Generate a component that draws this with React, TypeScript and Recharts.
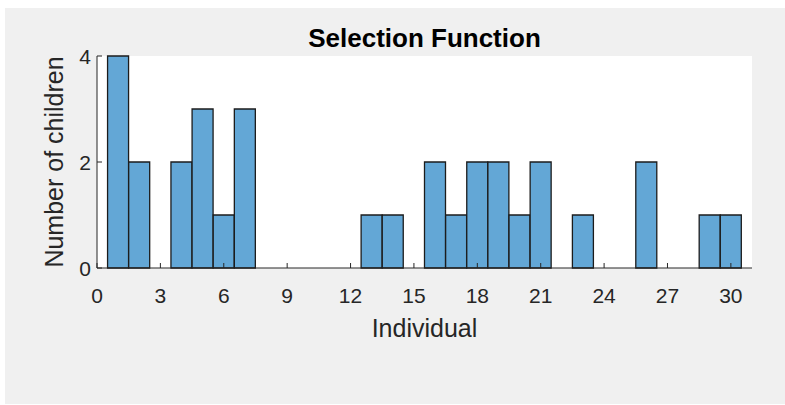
import React from 'react';
import { ComposedChart, Bar, XAxis, YAxis, CartesianGrid } from 'recharts';

const individuals = [1, 2, 3, 4, 5, 6, 7, 8, 9, 10, 11, 12, 13, 14, 15, 16, 17, 18, 19, 20, 21, 22, 23, 24, 25, 26, 27, 28, 29, 30];
const childrenCounts = [4, 2, 0, 2, 3, 1, 3, 0, 0, 0, 0, 0, 1, 1, 0, 2, 1, 2, 2, 1, 2, 0, 1, 0, 0, 2, 0, 0, 1, 1];
const xTicks = [0, 3, 6, 9, 12, 15, 18, 21, 24, 27, 30];
const yTicks = [0, 2, 4];
const xDomain = [0, 31];
const yDomain = [0, 4];
const titleText = 'Selection Function';
const xLabelText = 'Individual';
const yLabelText = 'Number of children';

const data = individuals.map((ind, i) => ({ individual: ind, count: childrenCounts[i] }));

const FONT = '"Liberation Sans", Arial, Helvetica, sans-serif';
const INK = '#262626';
const W = 785;
const H = 405;
const MARGIN = { top: 56, right: 33, bottom: 107, left: 37 };
const Y_AXIS_W = 60;
const X_AXIS_H = 30;

const XTick = (props: any) => {
  const { x, y, payload } = props;
  return (
    <g>
      <line x1={x} x2={x} y1={y} y2={y - 5} stroke={INK} strokeWidth={1} />
      <text x={x} y={y + 35} textAnchor="middle" fontSize={21} fill={INK} fontFamily={FONT}>
        {payload.value}
      </text>
    </g>
  );
};

const YTick = (props: any) => {
  const { x, y, payload } = props;
  return (
    <g>
      <line x1={x} x2={x + 5} y1={y} y2={y} stroke={INK} strokeWidth={1} />
      <text x={x - 6} y={y + 7.5} textAnchor="end" fontSize={21} fill={INK} fontFamily={FONT}>
        {payload.value}
      </text>
    </g>
  );
};

export default function App() {
  const plotLeft = MARGIN.left + Y_AXIS_W;
  const plotRight = W - MARGIN.right;
  const plotTop = MARGIN.top;
  const plotBottom = H - MARGIN.bottom - X_AXIS_H;
  const cx = (plotLeft + plotRight) / 2;
  const cy = (plotTop + plotBottom) / 2;
  return (
    <div style={{ position: 'absolute', left: 0, top: 0, width: W, height: H, background: '#ffffff', overflow: 'hidden' }}>
      <div style={{ position: 'absolute', left: 5, top: 8, width: W - 5, height: 396, background: '#f0f0f0' }} />
      <div style={{ position: 'absolute', left: 0, top: 0 }}>
        <ComposedChart width={W} height={H} data={data} margin={MARGIN} barCategoryGap={0} barGap={0}>
          <CartesianGrid horizontal={false} vertical={false} fill="#ffffff" fillOpacity={1} stroke="none" />
          <XAxis
            type="number"
            dataKey="individual"
            domain={xDomain}
            ticks={xTicks}
            interval={0}
            height={X_AXIS_H}
            tickSize={0}
            tickMargin={0}
            tickLine={false}
            axisLine={{ stroke: INK, strokeWidth: 1 }}
            tick={<XTick />}
          />
          <YAxis
            type="number"
            domain={yDomain}
            ticks={yTicks}
            interval={0}
            width={Y_AXIS_W}
            tickSize={0}
            tickMargin={0}
            tickLine={false}
            axisLine={{ stroke: INK, strokeWidth: 1 }}
            tick={<YTick />}
          />
          <Bar dataKey="count" fill="#63a7d6" stroke="#1c1c1c" strokeWidth={1.3} isAnimationActive={false} />
        </ComposedChart>
      </div>
      <svg width={W} height={H} style={{ position: 'absolute', left: 0, top: 0, pointerEvents: 'none' }}>
        <text x={cx} y={47} textAnchor="middle" fontSize={26} fontWeight="bold" fill="#000" fontFamily={FONT}>
          {titleText}
        </text>
        <text x={cx} y={337} textAnchor="middle" fontSize={25} fill={INK} fontFamily={FONT}>
          {xLabelText}
        </text>
        <text x={63} y={cy} textAnchor="middle" fontSize={25} fill={INK} fontFamily={FONT} transform={`rotate(-90 63 ${cy})`}>
          {yLabelText}
        </text>
      </svg>
    </div>
  );
}
